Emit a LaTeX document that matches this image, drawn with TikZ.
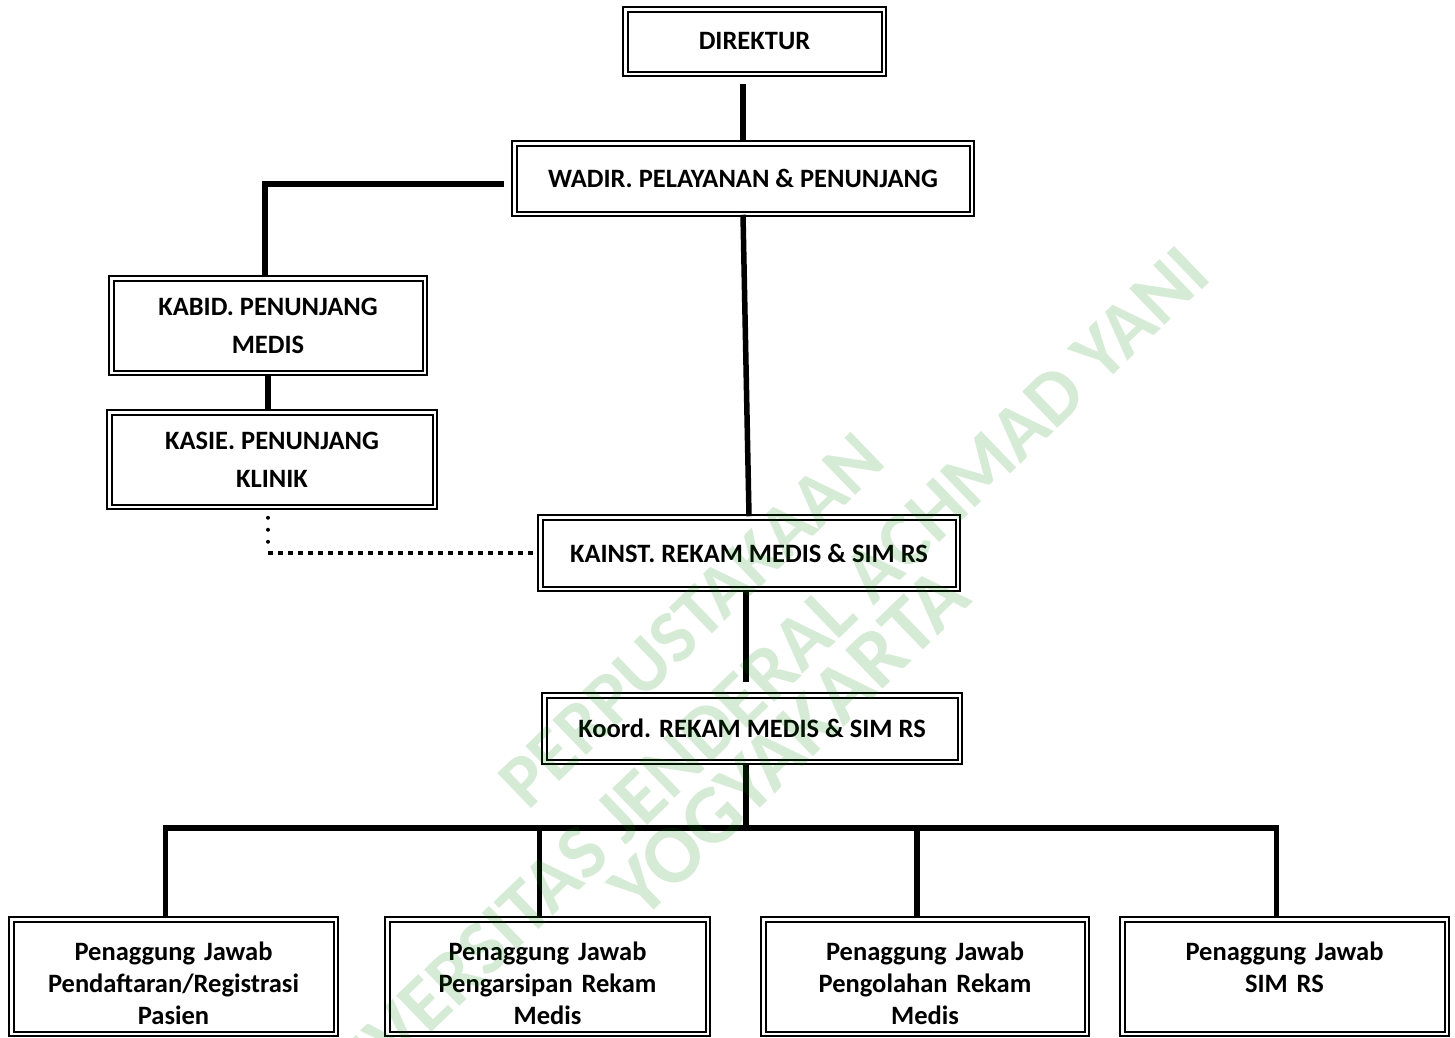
\documentclass[tikz,border=0pt]{standalone}
\usepackage{fontspec}
\setmainfont{Carlito}
\usepackage{tikz}
\definecolor{wm-green}{RGB}{0, 128, 0}

\begin{document}
\begin{tikzpicture}[x=1pt, y=-1pt,
    box/.style={draw, double, line width=2pt, double distance=2.5pt, inner sep=0pt, align=center,
      font=\fontsize{26.5}{32}\selectfont\bfseries},
    pjbox/.style={box, anchor=north, text width=300pt, text height=41pt, text depth=73.5pt},
    link/.style={line width=5.5pt},
    dotv/.style={line width=4pt, line cap=round, dash pattern=on 0pt off 12pt, dash phase=2pt},
    doth/.style={line width=4.5pt, dash pattern=on 4.5pt off 5.5pt},
    wmark/.style={anchor=base, rotate=44, text=wm-green, text opacity=0.16}]
  \useasboundingbox (0,0) rectangle (1455,1037);

  \node[box, minimum width=258.5pt, minimum height=64.5pt] (direktur) at (754.5,41.5) {DIREKTUR};
  \node[box, minimum width=457.5pt, minimum height=70.5pt] (wadir) at (743,178.5) {WADIR. PELAYANAN \& PENUNJANG};
  \node[box, minimum width=313.5pt, minimum height=94.5pt] (kabid) at (268,325.5) {KABID. PENUNJANG\\[6pt]MEDIS};
  \node[box, minimum width=325.5pt, minimum height=94.5pt] (kasie) at (272,459.5) {KASIE. PENUNJANG\\[6pt]KLINIK};
  \node[box, minimum width=417.5pt, minimum height=71.5pt] (kainst) at (749,553) {KAINST. REKAM MEDIS \& SIM RS};
  \node[box, minimum width=415.5pt, minimum height=66.5pt] (koord) at (752,728.5) {Koord. REKAM MEDIS \& SIM RS};
  \node[pjbox, minimum width=324.5pt] (pj1) at (173.5,918.25) {Penaggung Jawab\\Pendaftaran/Registrasi\\Pasien};
  \node[pjbox, minimum width=320.5pt] (pj2) at (547.5,918.25) {Penaggung Jawab\\Pengarsipan Rekam\\Medis};
  \node[pjbox, minimum width=323.5pt] (pj3) at (925,918.25) {Penaggung Jawab\\Pengolahan Rekam\\Medis};
  \node[pjbox, minimum width=324.5pt] (pj4) at (1284.5,918.25) {Penaggung Jawab\\SIM RS};

  \coordinate (bus) at (746,828);
  \coordinate (dotturn) at (kabid.south |- kainst.west);
  \draw[link, shorten >=9.25pt] (wadir.north) -- (wadir.north |- direktur.south);
  \draw[link, shorten <=9.25pt] ([yshift=-5.5pt]wadir.west) -| ([xshift=-3pt]kabid.north);
  \draw[link] (kabid.south) -- (kabid.south |- kasie.north);
  \draw[dotv] (kabid.south |- kasie.south) -- (dotturn);
  \draw[doth] (dotturn) -- (kainst.west);
  \draw[link] (wadir.south) -- (kainst.north);
  \draw[link, shorten >=12pt] ([xshift=-3pt]kainst.south) -- ([xshift=-3pt]kainst.south |- koord.north);
  \draw[link] ([xshift=-6pt]koord.south) -- (bus);
  \draw[link] ([xshift=-8pt]pj1.north) |- (bus) -| ([xshift=-8pt]pj4.north);
  \foreach \n in {pj2, pj3}
    \draw[link] ([xshift=-8pt]\n.north) -- ([xshift=-8pt]\n.north |- bus);

  \node[wmark, font=\fontsize{75}{90}\selectfont\bfseries] (wm1) at (708,638) {PERPUSTAKAAN};
  \node[wmark, font=\fontsize{78}{90}\selectfont\bfseries] (wm2) at (760,716) {UNIVERSITAS JENDERAL ACHMAD YANI};
  \node[wmark, font=\fontsize{83}{90}\selectfont\bfseries] (wm3) at (808,762) {YOGYAKARTA};
\end{tikzpicture}
\end{document}
